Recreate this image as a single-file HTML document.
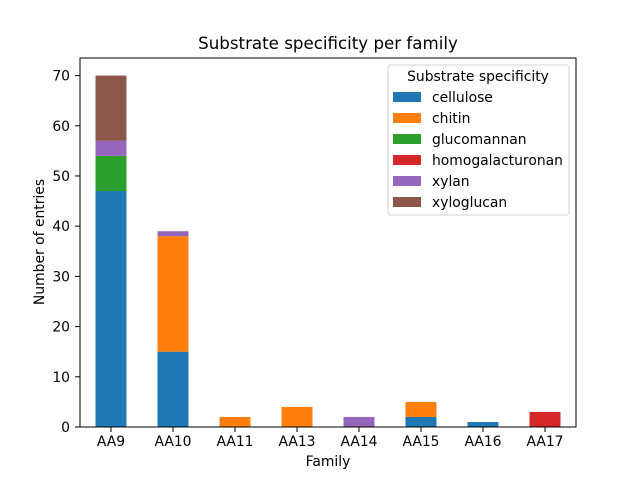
<!DOCTYPE html>
<html><head><meta charset="utf-8"><style>
body{margin:0;background:#fff}
svg{font-family:"DejaVu Sans","Liberation Sans",sans-serif}
</style></head><body>
<svg id="chart" width="640" height="480" xmlns="http://www.w3.org/2000/svg">
<rect width="640" height="480" fill="#fff"/>
<text x="328" y="49" font-size="16.67" text-anchor="middle">Substrate specificity per family</text>
<g id="plot"></g>
<rect x="80" y="58" width="496" height="369" fill="none" stroke="#000" stroke-width="1"/>
<text x="328" y="466" font-size="13.9" text-anchor="middle">Family</text>
<text transform="translate(44,242) rotate(-90)" font-size="13.9" text-anchor="middle">Number of entries</text>
<g id="legend">
<rect x="388" y="65" width="181" height="150" rx="3" fill="#fff" stroke="#ccc" opacity="0.9"/>
<text x="478" y="81" font-size="13.9" text-anchor="middle">Substrate specificity</text>
</g>
</svg>
<script>
const categories=["AA9","AA10","AA11","AA13","AA14","AA15","AA16","AA17"];
const seriesNames=["cellulose","chitin","glucomannan","homogalacturonan","xylan","xyloglucan"];
const cellulose=[47,15,0,0,0,2,1,0];
const chitin=[0,23,2,4,0,3,0,0];
const glucomannan=[7,0,0,0,0,0,0,0];
const homogalacturonan=[0,0,0,0,0,0,0,3];
const xylan=[3,1,0,0,2,0,0,0];
const xyloglucan=[13,0,0,0,0,0,0,0];
const yTicks=[0,10,20,30,40,50,60,70];
const colors=["#1f77b4","#ff7f0e","#2ca02c","#d62728","#9467bd","#8c564b"];
const series=[cellulose,chitin,glucomannan,homogalacturonan,xylan,xyloglucan];
const NS="http://www.w3.org/2000/svg";
const L=80,R=576,T=58,B=427,yMax=73.5;
const y=v=>B-v/yMax*(B-T);
const band=(R-L)/categories.length;
const xc=i=>L+band*(i+0.5);
const plot=document.getElementById('plot');
function mk(tag,attrs,parent){const e=document.createElementNS(NS,tag);for(const k in attrs)e.setAttribute(k,attrs[k]);parent.appendChild(e);return e;}
categories.forEach((c,i)=>{
  let base=0;
  series.forEach((s,j)=>{
    const v=s[i]; if(!v){return;}
    const r=mk('rect',{x:xc(i)-band/4,y:y(base+v),width:band/2,height:y(base)-y(base+v),fill:colors[j]},plot);
    
    
    base+=v;
  });
  mk('line',{x1:xc(i),x2:xc(i),y1:B,y2:B+5,stroke:'#000'},plot);
  const t=mk('text',{x:xc(i),y:B+19,'font-size':13.9,'text-anchor':'middle'},plot);
  t.textContent=c;
  
  
});
yTicks.forEach(v=>{
  mk('line',{x1:L-5,x2:L,y1:y(v),y2:y(v),stroke:'#000'},plot);
  const t=mk('text',{x:L-10,y:y(v)+5,'font-size':13.9,'text-anchor':'end'},plot);
  t.textContent=v;
  
  
});
const lg=document.getElementById('legend');
seriesNames.forEach((n,j)=>{
  const yy=97+j*21;
  const r=mk('rect',{x:393,y:yy-5,width:28,height:10,fill:colors[j]},lg);
  
  
  const t=mk('text',{x:432,y:yy+5,'font-size':13.9},lg);
  t.textContent=n;
  
  
});
</script>
</body></html>
